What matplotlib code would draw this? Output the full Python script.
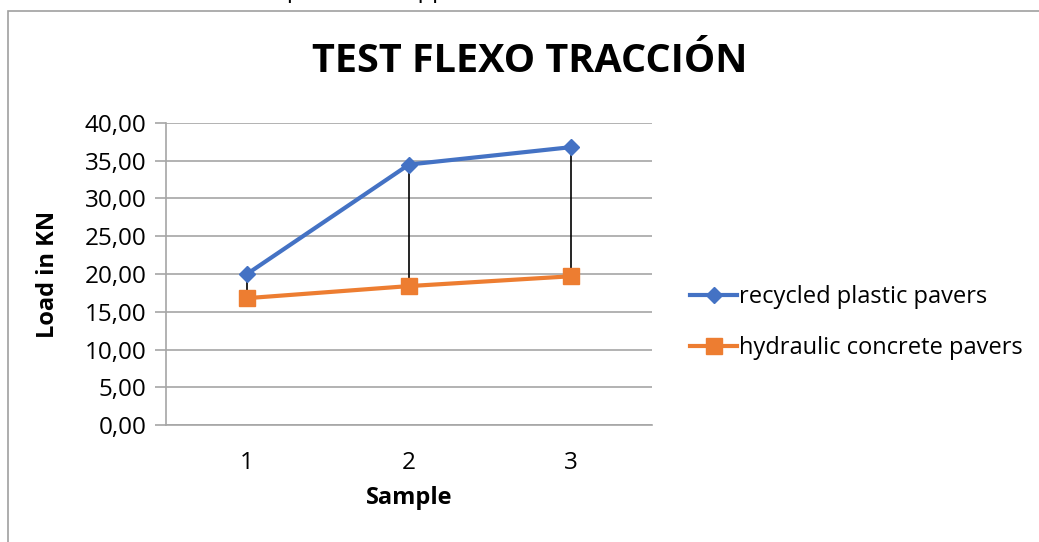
import matplotlib
matplotlib.use("Agg")
import matplotlib.pyplot as plt
from matplotlib.ticker import FuncFormatter, MultipleLocator
from matplotlib.patches import Rectangle

samples = [1, 2, 3]
recycled = [20.0, 34.5, 36.8]
hydraulic = [16.8, 18.4, 19.7]
series_names = ["recycled plastic pavers", "hydraulic concrete pavers"]
title = "TEST FLEXO TRACCIÓN"
xlabel = "Sample"
ylabel = "Load in KN"
top_text = "Comparison of applied load in the flexo traction test"

plt.rcParams['font.family'] = ['Open Sans', 'DejaVu Sans']

W, H = 1039, 542
fig = plt.figure(figsize=(W / 100, H / 100), dpi=100)

def fx(px):
    return px / W

def fy(py):
    return 1 - py / H

# outer chart frame (extends past right and bottom edges)
fig.patches.append(Rectangle((fx(8), fy(560)), fx(1100), fy(11) - fy(560),
                             transform=fig.transFigure, fill=False,
                             edgecolor="#a0a0a0", linewidth=1.2))
# caption above, mostly cut off by the top edge as in the reference
fig.text(fx(522), fy(3), top_text, ha="center", va="bottom", fontsize=17, color="black")

ax = fig.add_axes([fx(166), fy(425), fx(652) - fx(166), fy(123) - fy(425)])

blue = "#4472C4"
orange = "#ED7D31"

# high-low lines
for x, a, b in zip(samples, recycled, hydraulic):
    ax.plot([x, x], [b, a], color="black", linewidth=1.2, zorder=2)

ax.plot(samples, recycled, color=blue, linewidth=3, marker="D", markersize=8,
        label=series_names[0], zorder=3)
ax.plot(samples, hydraulic, color=orange, linewidth=3, marker="s", markersize=12,
        label=series_names[1], zorder=3)

ax.set_xlim(0.5, 3.5)
ax.set_ylim(0, 40)
ax.yaxis.set_major_locator(MultipleLocator(5))
ax.yaxis.set_major_formatter(FuncFormatter(lambda v, p: f"{v:.2f}".replace(".", ",")))
ax.set_xticks(samples)
ax.set_xticklabels([str(s) for s in samples])
ax.grid(axis="y", color="#a6a6a6", linewidth=1.2, zorder=0)
ax.set_axisbelow(True)
for s in ["top", "right"]:
    ax.spines[s].set_visible(False)
ax.spines["left"].set_color("#a6a6a6")
ax.spines["bottom"].set_color("#a6a6a6")
ax.spines["left"].set_linewidth(1.2)
ax.spines["bottom"].set_linewidth(1.2)
ax.tick_params(axis="y", length=8, color="#a6a6a6", width=1.2, labelsize=17.5, pad=6)
ax.tick_params(axis="x", length=0, labelsize=17.5, pad=19)

ax.set_xlabel(xlabel, fontsize=17, fontweight="bold", labelpad=8)
ax.set_ylabel(ylabel, fontsize=17, fontweight="bold", labelpad=18)

fig.text(fx(530), fy(62), title, ha="center", va="center", fontsize=28.5, fontweight="bold")

leg = fig.legend(loc="upper left", bbox_to_anchor=(fx(690), fy(285)), frameon=False,
                 fontsize=17, handlelength=2.0, handletextpad=0.08, labelspacing=1.15,
                 borderpad=0, borderaxespad=0)

fig.savefig("out.png", dpi=100)
